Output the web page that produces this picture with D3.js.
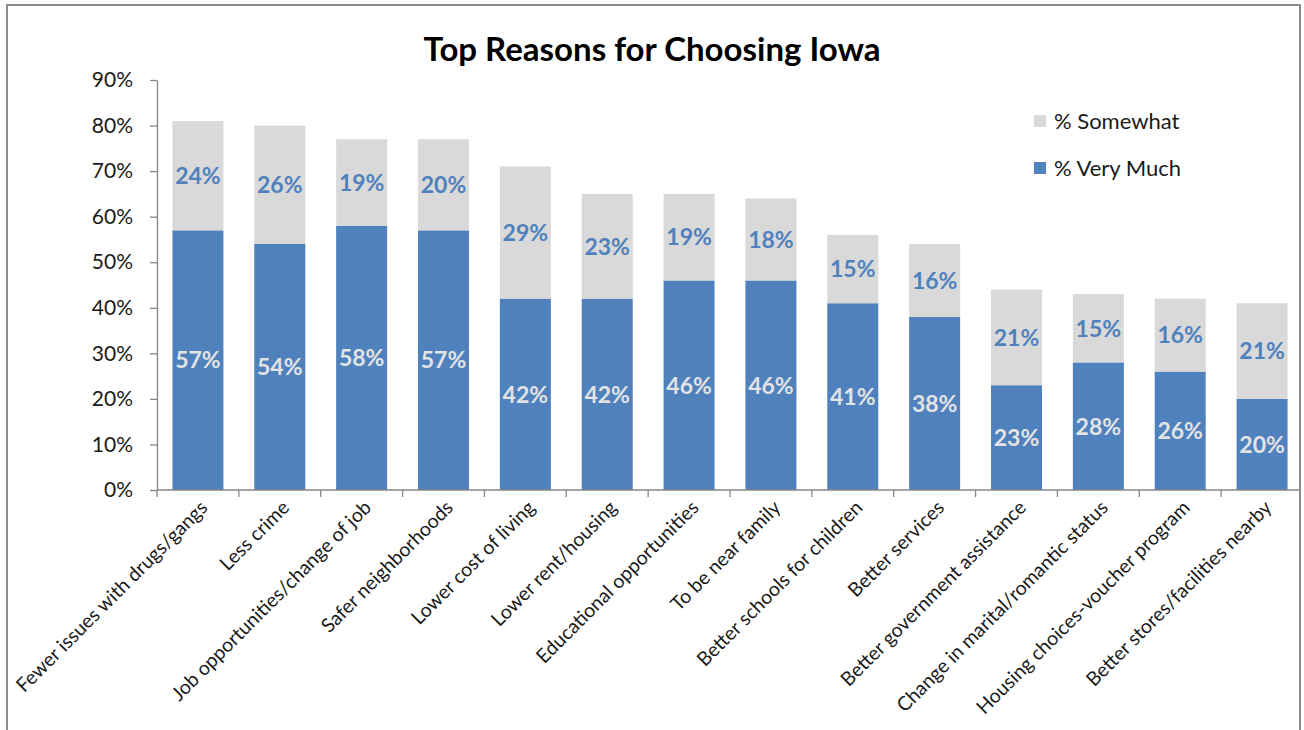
<!DOCTYPE html>
<html>
<head>
<meta charset="utf-8">
<script src="https://cdn.jsdelivr.net/npm/d3@7"></script>
<style>
  html, body { margin: 0; padding: 0; background: #ffffff; }
  svg { display: block; }
  text { font-family: Lato, "Open Sans", "Liberation Sans", sans-serif; }
</style>
</head>
<body>
<svg id="chart" width="1304" height="730"></svg>
<script>
// Reasons for moving to Iowa, share answering "very much" and "somewhat"
const categories = [
  "Fewer issues with drugs/gangs",
  "Less crime",
  "Job opportunities/change of job",
  "Safer neighborhoods",
  "Lower cost of living",
  "Lower rent/housing",
  "Educational opportunities",
  "To be near family",
  "Better schools for children",
  "Better services",
  "Better government assistance",
  "Change in marital/romantic status",
  "Housing choices-voucher program",
  "Better stores/facilities nearby"
];
const veryMuch = [57, 54, 58, 57, 42, 42, 46, 46, 41, 38, 23, 28, 26, 20];
const somewhat = [24, 26, 19, 20, 29, 23, 19, 18, 15, 16, 21, 15, 16, 21];
const seriesNames = ["% Very Much", "% Somewhat"];
const yTicks = [0, 10, 20, 30, 40, 50, 60, 70, 80, 90];

const colors = { "% Very Much": "#4f81bd", "% Somewhat": "#d9d9d9" };
const labelColors = { "% Very Much": "#e3e3e3", "% Somewhat": "#4f81bd" };

const svg = d3.select("#chart");

// outer frame
svg.append("rect")
  .attr("x", 7).attr("y", 5)
  .attr("width", 1293).attr("height", 740)
  .attr("fill", "none")
  .attr("stroke", "#8c8c8c")
  .attr("stroke-width", 2);

// title
svg.append("text")
  .attr("x", 652).attr("y", 61)
  .attr("text-anchor", "middle")
  .attr("font-size", 33)
  .attr("font-weight", 700)
  .attr("fill", "#000")
  .text("Top Reasons for Choosing Iowa");

const rows = categories.map((c, i) => ({
  category: c,
  "% Very Much": veryMuch[i],
  "% Somewhat": somewhat[i]
}));

const x = d3.scaleBand()
  .domain(categories)
  .range([157, 1303])
  .paddingInner(0.377)
  .paddingOuter(0.1885);

const y = d3.scaleLinear().domain([0, 90]).range([490, 80]);

const stacked = d3.stack().keys(seriesNames)(rows);

// bars
const layers = svg.append("g").selectAll("g")
  .data(stacked).join("g")
  .attr("fill", d => colors[d.key]);

layers.selectAll("rect")
  .data(d => d)
  .join("rect")
  .attr("x", d => x(d.data.category))
  .attr("width", x.bandwidth())
  .attr("y", d => y(d[1]))
  .attr("height", d => y(d[0]) - y(d[1]));

// value labels centred in each segment
svg.append("g").selectAll("g")
  .data(stacked).join("g")
  .attr("fill", d => labelColors[d.key])
  .each(function(layer) {
    d3.select(this).selectAll("text")
      .data(layer)
      .join("text")
      .attr("x", d => x(d.data.category) + x.bandwidth() / 2)
      .attr("y", d => (y(d[0]) + y(d[1])) / 2)
      .attr("dy", "0.36em")
      .attr("text-anchor", "middle")
      .attr("font-size", 23)
      .attr("font-weight", 700)
      .text(d => (d[1] - d[0]) + "%");
  });

// y axis
const yAxis = svg.append("g")
  .attr("transform", "translate(157,0)")
  .call(d3.axisLeft(y).tickValues(yTicks).tickFormat(d => d + "%")
    .tickSize(7).tickSizeOuter(0).tickPadding(17));
yAxis.select(".domain").attr("stroke", "#868686").attr("stroke-width", 1.3);
yAxis.selectAll(".tick line").attr("stroke", "#868686").attr("stroke-width", 1.3);
yAxis.selectAll(".tick text")
  .attr("font-size", 21)
  .attr("fill", "#1a1a1a")
  .attr("font-family", "Lato, sans-serif");

// x axis line with ticks at band boundaries
const step = x.step();
const boundaries = categories.map(c => x(c) - (step - x.bandwidth()) / 2);
const xg = svg.append("g");
xg.append("line")
  .attr("x1", 157).attr("x2", 1300)
  .attr("y1", 490).attr("y2", 490)
  .attr("stroke", "#868686").attr("stroke-width", 1.3);
xg.selectAll("line.tick")
  .data(boundaries)
  .join("line")
  .attr("class", "tick")
  .attr("x1", d => d).attr("x2", d => d)
  .attr("y1", 490).attr("y2", 497)
  .attr("stroke", "#868686").attr("stroke-width", 1.3);

// rotated category labels
xg.selectAll("text")
  .data(categories)
  .join("text")
  .attr("transform", c => `translate(${x(c) + x.bandwidth() / 2 + 6},${504}) rotate(-45)`)
  .attr("text-anchor", "end")
  .attr("dy", "0.35em")
  .attr("font-size", 19.5)
  .attr("fill", "#1a1a1a")
  .text(c => c);

// legend
const legendItems = ["% Somewhat", "% Very Much"];
const legend = svg.append("g").selectAll("g")
  .data(legendItems).join("g")
  .attr("transform", (d, i) => `translate(1034,${121 + i * 47})`);
legend.append("rect")
  .attr("x", 0).attr("y", -6)
  .attr("width", 12).attr("height", 12)
  .attr("fill", d => colors[d]);
legend.append("text")
  .attr("x", 20).attr("y", 0)
  .attr("dy", "0.36em")
  .attr("font-size", 22)
  .attr("fill", "#1a1a1a")
  .text(d => d);
</script>
</body>
</html>
